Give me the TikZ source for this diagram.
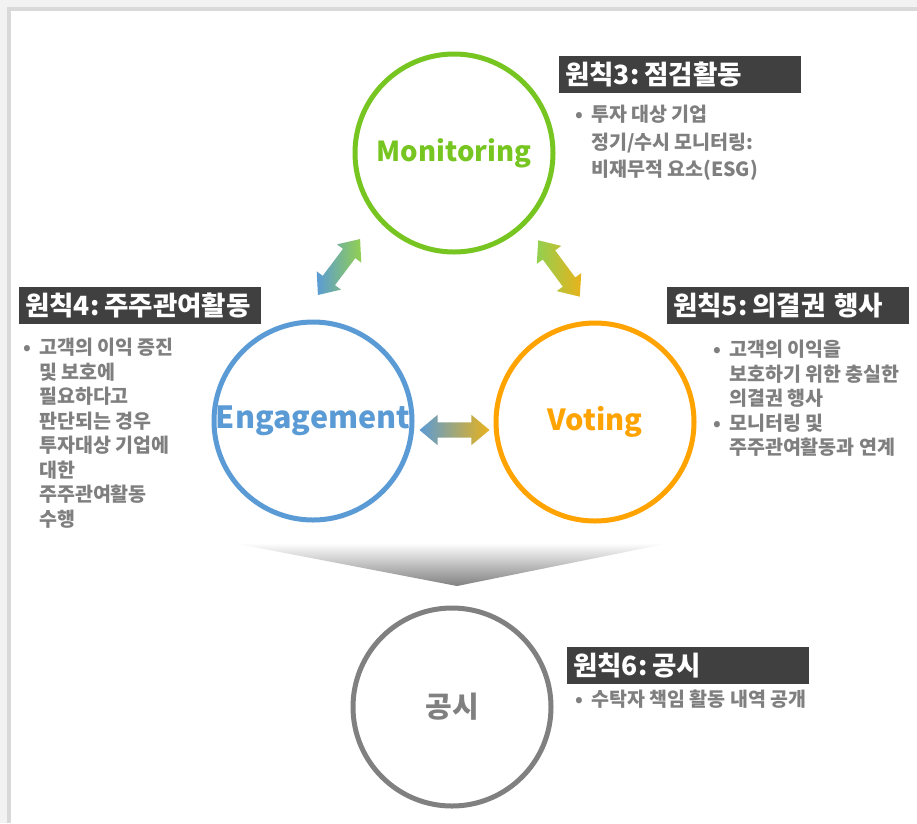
\documentclass[tikz,border=0pt]{standalone}
\usepackage{fontspec}
\setmainfont{Noto Sans CJK KR}
\usetikzlibrary{positioning, shapes.arrows}
\definecolor{mongreen}{HTML}{77C520}
\definecolor{engblue}{HTML}{5B9BD5}
\definecolor{votorange}{HTML}{FFA300}
\definecolor{gonggray}{HTML}{808080}
\definecolor{titlebg}{HTML}{404040}
\definecolor{bodygray}{HTML}{7F7F7F}
\definecolor{arrgreen}{HTML}{92D050}
\definecolor{arrblue}{HTML}{5B9BD5}
\definecolor{arryellow}{HTML}{E8B21C}
\definecolor{bgouter}{HTML}{F2F2F2}
\definecolor{frameline}{HTML}{D9D9D9}
\newcommand{\bul}{\makebox[16pt][l]{•}}
\newcommand{\ind}{\hspace*{16pt}}

\begin{document}
\begin{tikzpicture}[x=1pt, y=-1pt,
    circ/.style={circle, draw, line width=5pt, minimum size=198pt, inner sep=0pt},
    titlebox/.style={fill=titlebg, text=white, font=\bfseries\fontsize{26.5}{26.5}\selectfont,
        text width=230pt, inner xsep=6pt, minimum height=37pt, align=left, anchor=north west},
    notes/.style={text=bodygray, font=\bfseries\fontsize{19.5}{24.5}\selectfont,
        align=left, anchor=north west, inner sep=0pt},
    dblarr/.style={double arrow, minimum height=70pt, inner xsep=0pt, inner ysep=7.5pt,
        double arrow head extend=7.5pt, double arrow tip angle=80}]
    \useasboundingbox (0,0) rectangle (917,823);
    \fill[bgouter] (0,0) rectangle (917,823);
    \fill[white] (11,11) rectangle (917,823);
    \draw[frameline, line width=4pt] (9,823) -- (9,9) -- (917,9);

    \shade[top color=white, bottom color=gonggray] (233,543) -- (670,543) -- (457,586) -- cycle;

    \node[circ, draw=mongreen, text=mongreen, font=\bfseries\fontsize{27.5}{27.5}\selectfont] (mon) at (454,153) {Monitoring};
    \node[circ, draw=engblue, text=engblue, font=\bfseries\fontsize{30.5}{30.5}\selectfont] (eng) at (313,421) {Engagement};
    \node[circ, draw=votorange, text=votorange, font=\bfseries\fontsize{29}{29}\selectfont] (vot) at (595,422) {Voting};
    \node[circ, draw=gonggray, text=gonggray, font=\bfseries\fontsize{29}{29}\selectfont] (gong) at (452,707) {공시};

    \node[dblarr, left color=arrblue, right color=arrgreen, rotate=53] (a1) at (339,267) {};
    \node[dblarr, left color=arrgreen, right color=arryellow, rotate=-53.6] (a2) at (559,268.5) {};
    \node[dblarr, left color=arrblue, right color=arryellow] (a3) at (454.5,430) {};

    \node[titlebox] (t3) at (559,56) {원칙3:\kern5pt 점검활동};
    \node[titlebox] (t4) at (19,287) {원칙4:\kern5pt 주주관여활동};
    \node[titlebox] (t5) at (667,287) {원칙5:\kern5pt 의결권 행사};
    \node[titlebox] (t6) at (567,647) {원칙6:\kern5pt 공시};

    \node[notes, font=\bfseries\fontsize{19.5}{27.5}\selectfont] (n3) at (575,105)
        {\bul 투자 대상 기업\\ \ind 정기/수시 모니터링:\\ \ind 비재무적 요소(ESG)};
    \node[notes] (n4) at (23,338)
        {\bul 고객의 이익 증진\\ \ind 및 보호에\\ \ind 필요하다고\\ \ind 판단되는 경우\\
         \ind 투자대상 기업에\\ \ind 대한\\ \ind 주주관여활동\\ \ind 수행};
    \node[notes] (n5) at (713,340)
        {\bul 고객의 이익을\\ \ind 보호하기 위한 충실한\\ \ind 의결권 행사\\
         \bul 모니터링 및\\ \ind 주주관여활동과 연계};
    \node[notes] (n6) at (575,690) {\bul 수탁자 책임 활동 내역 공개};
\end{tikzpicture}
\end{document}
